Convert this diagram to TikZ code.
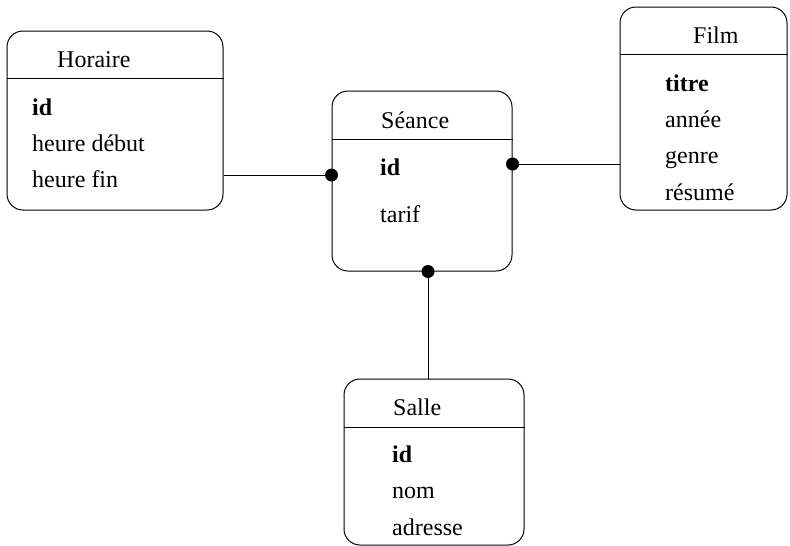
\documentclass[tikz,border=0pt]{standalone}
\usepackage{fontspec}
\setmainfont{Liberation Serif}
\tikzset{
  entite/.style={draw, rounded corners=16pt, line width=1pt, inner sep=0pt},
  attr/.style={anchor=base west, inner sep=0pt, font=\fontsize{24}{28}\selectfont},
  lien/.style={line width=1pt},
}
\begin{document}
\begin{tikzpicture}[x=1pt,y=-1pt]
	\useasboundingbox (0,0) rectangle (790,546);
	
	% entites
	\node[entite, minimum width=216pt, minimum height=179pt] (horaire) at (115,120.5) {};
	\node[entite, minimum width=180pt, minimum height=180pt] (seance) at (422,181) {};
	\node[entite, minimum width=167pt, minimum height=203pt] (film) at (703.5,108.5) {};
	\node[entite, minimum width=180pt, minimum height=166pt] (salle) at (434,462) {};
	
	\draw[lien] (horaire.west |- 0,78)--(horaire.east |- 0,78);
	\draw[lien] (seance.west |- 0,139)--(seance.east |- 0,139);
	\draw[lien] (film.west |- 0,54)--(film.east |- 0,54);
	\draw[lien] (salle.west |- 0,427)--(salle.east |- 0,427);
	
	\node[attr] (h-nom) at (57,67) {Horaire};
	\foreach \t/\y [count=\i] in {\textbf{id}/115, heure début/151, heure fin/187}
		\node[attr] (h-\i) at (32,\y) {\t};
	
	\node[attr] (s-nom) at (381,128) {Séance};
	\foreach \t/\y [count=\i] in {\textbf{id}/175, tarif/222}
		\node[attr] (s-\i) at (380,\y) {\t};
	
	\node[attr] (f-nom) at (693,43) {Film};
	\foreach \t/\y [count=\i] in {\textbf{titre}/91, année/127, genre/163, résumé/200}
		\node[attr] (f-\i) at (665,\y) {\t};
	
	\node[attr] (sa-nom) at (393,415) {Salle};
	\foreach \t/\y [count=\i] in {\textbf{id}/462, nom/498, adresse/535}
		\node[attr] (sa-\i) at (392,\y) {\t};
	
	% liens
	\coordinate (s-o) at (seance.west |- 0,175);
	\coordinate (s-e) at (seance.east |- 0,164);
	\coordinate (s-s) at (428,0 |- seance.south);
	\draw[lien] (horaire.east |- s-o)--(s-o);
	\draw[lien] (s-e)--(film.west |- s-e);
	\draw[lien] (s-s)--(s-s |- salle.north);
	\fill (s-o) circle (6.5) (s-e) circle (6.5) (s-s) circle (6.5);
\end{tikzpicture}
\end{document}
